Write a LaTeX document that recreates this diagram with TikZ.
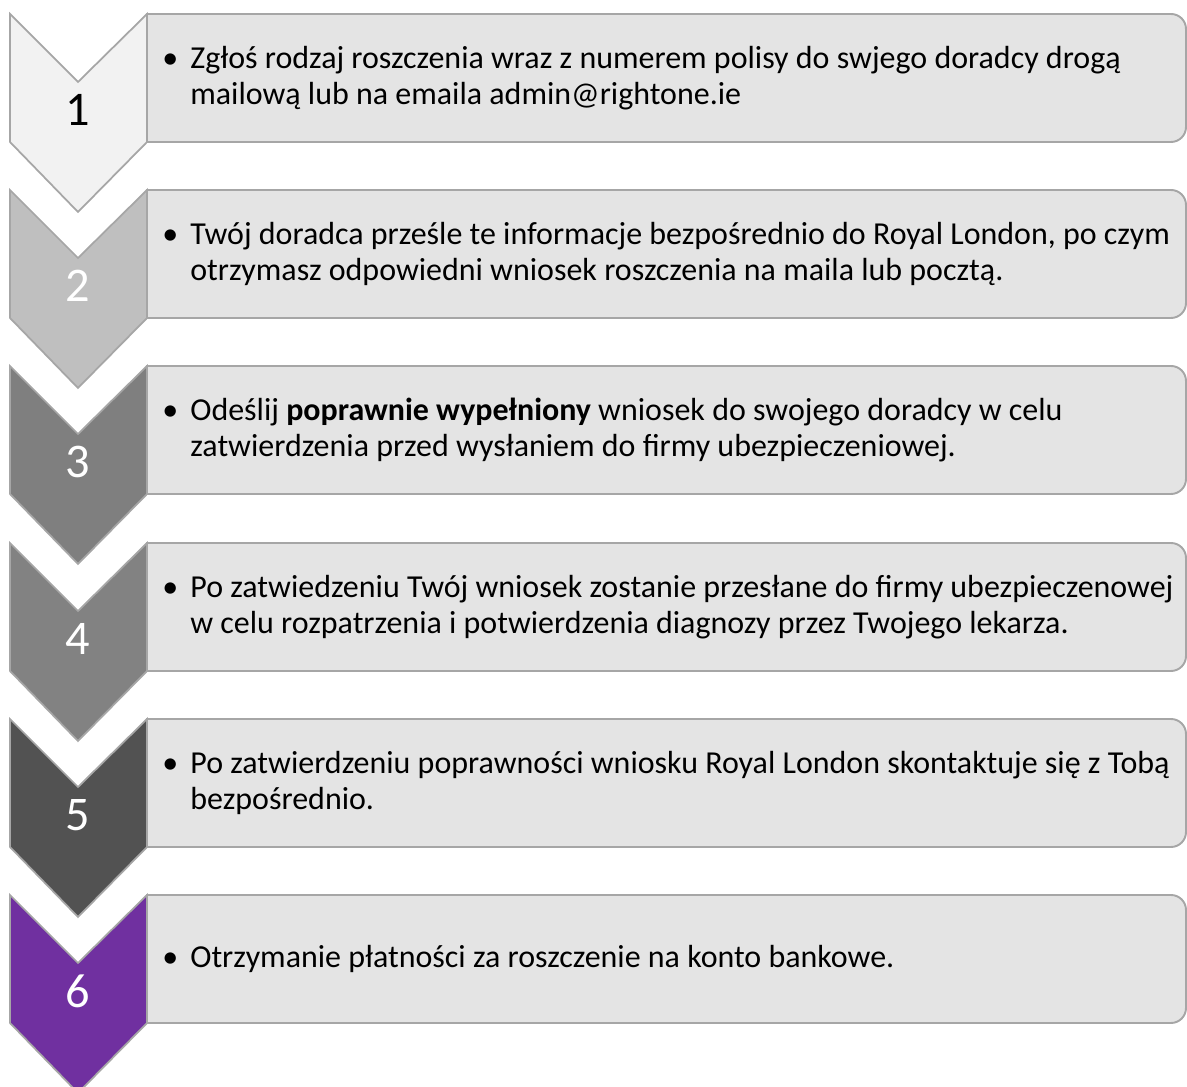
\documentclass[tikz,border=0pt]{standalone}
\usepackage{fontspec}
\setmainfont{Carlito}

\definecolor{kolBox}{HTML}{E4E4E4}
\definecolor{kolRama}{HTML}{A6A6A6}
\definecolor{kol1}{HTML}{F2F2F2}
\definecolor{kol2}{HTML}{BFBFBF}
\definecolor{kol3}{HTML}{7F7F7F}
\definecolor{kol4}{HTML}{828282}
\definecolor{kol5}{HTML}{525252}
\definecolor{kol6}{HTML}{7030A0}

\begin{document}
\begin{tikzpicture}[x=0.02cm, y=0.02cm,
  box/.style={draw=kolRama, fill=kolBox, line width=1.1pt},
  chev/.style={draw=kolRama, line width=1pt, line join=miter},
  num/.style={inner sep=0pt, font=\fontsize{27.5}{27.5}\selectfont},
  opis/.style={anchor=west, align=left, inner sep=0pt, font=\fontsize{18.2}{20.4}\selectfont}]

\useasboundingbox (0,0) rectangle (1187,1086);

%% KROK 1
% Pole tekstowe
\draw[box] (147,1072) -- (1171,1072) arc[start angle=90, end angle=0, radius=0.3cm]
  -- (1186,959) arc[start angle=0, end angle=-90, radius=0.3cm] -- (147,944) -- cycle;
% Strzalka
\draw[chev, fill=kol1] (10,1072) -- (78,1004) -- (147,1072) -- (147,944) -- (78,874) -- (10,944) -- cycle;
\node[num] at (78,976) (n1) {1};
\node[opis] at (190,1008) (t1)
{\llap{•\hspace{0.24cm}}Zgłoś rodzaj roszczenia wraz z numerem polisy do swjego doradcy drogą\\mailową lub na emaila admin@rightone.ie};

%% KROK 2
% Pole tekstowe
\draw[box] (147,896) -- (1171,896) arc[start angle=90, end angle=0, radius=0.3cm]
  -- (1186,783) arc[start angle=0, end angle=-90, radius=0.3cm] -- (147,768) -- cycle;
% Strzalka
\draw[chev, fill=kol2] (10,896) -- (78,828) -- (147,896) -- (147,768) -- (78,698) -- (10,768) -- cycle;
\node[num, text=white] at (78,800) (n2) {2};
\node[opis] at (190,832) (t2)
{\llap{•\hspace{0.24cm}}Twój doradca prześle te informacje bezpośrednio do Royal London, po czym\\otrzymasz odpowiedni wniosek roszczenia na maila lub pocztą.};

%% KROK 3
% Pole tekstowe
\draw[box] (147,720) -- (1171,720) arc[start angle=90, end angle=0, radius=0.3cm]
  -- (1186,607) arc[start angle=0, end angle=-90, radius=0.3cm] -- (147,592) -- cycle;
% Strzalka
\draw[chev, fill=kol3] (10,720) -- (78,652) -- (147,720) -- (147,592) -- (78,522) -- (10,592) -- cycle;
\node[num, text=white] at (78,624) (n3) {3};
\node[opis] at (190,656) (t3)
{\llap{•\hspace{0.24cm}}Odeślij \textbf{poprawnie wypełniony} wniosek do swojego doradcy w celu\\zatwierdzenia przed wysłaniem do firmy ubezpieczeniowej.};

%% KROK 4
% Pole tekstowe
\draw[box] (147,543) -- (1171,543) arc[start angle=90, end angle=0, radius=0.3cm]
  -- (1186,430) arc[start angle=0, end angle=-90, radius=0.3cm] -- (147,415) -- cycle;
% Strzalka
\draw[chev, fill=kol4] (10,543) -- (78,475) -- (147,543) -- (147,415) -- (78,345) -- (10,415) -- cycle;
\node[num, text=white] at (78,447) (n4) {4};
\node[opis] at (190,479) (t4)
{\llap{•\hspace{0.24cm}}Po zatwiedzeniu Twój wniosek zostanie przesłane do firmy ubezpieczenowej\\w celu rozpatrzenia i potwierdzenia diagnozy przez Twojego lekarza.};

%% KROK 5
% Pole tekstowe
\draw[box] (147,367) -- (1171,367) arc[start angle=90, end angle=0, radius=0.3cm]
  -- (1186,254) arc[start angle=0, end angle=-90, radius=0.3cm] -- (147,239) -- cycle;
% Strzalka
\draw[chev, fill=kol5] (10,367) -- (78,299) -- (147,367) -- (147,239) -- (78,169) -- (10,239) -- cycle;
\node[num, text=white] at (78,271) (n5) {5};
\node[opis] at (190,303) (t5)
{\llap{•\hspace{0.24cm}}Po zatwierdzeniu poprawności wniosku Royal London skontaktuje się z Tobą\\bezpośrednio.};

%% KROK 6
% Pole tekstowe
\draw[box] (147,191) -- (1171,191) arc[start angle=90, end angle=0, radius=0.3cm]
  -- (1186,78) arc[start angle=0, end angle=-90, radius=0.3cm] -- (147,63) -- cycle;
% Strzalka
\draw[chev, fill=kol6] (10,191) -- (78,123) -- (147,191) -- (147,63) -- (78,-7) -- (10,63) -- cycle;
\node[num, text=white] at (78,95) (n6) {6};
\node[opis] at (190,127) (t6)
{\llap{•\hspace{0.24cm}}Otrzymanie płatności za roszczenie na konto bankowe.};

\end{tikzpicture}
\end{document}
